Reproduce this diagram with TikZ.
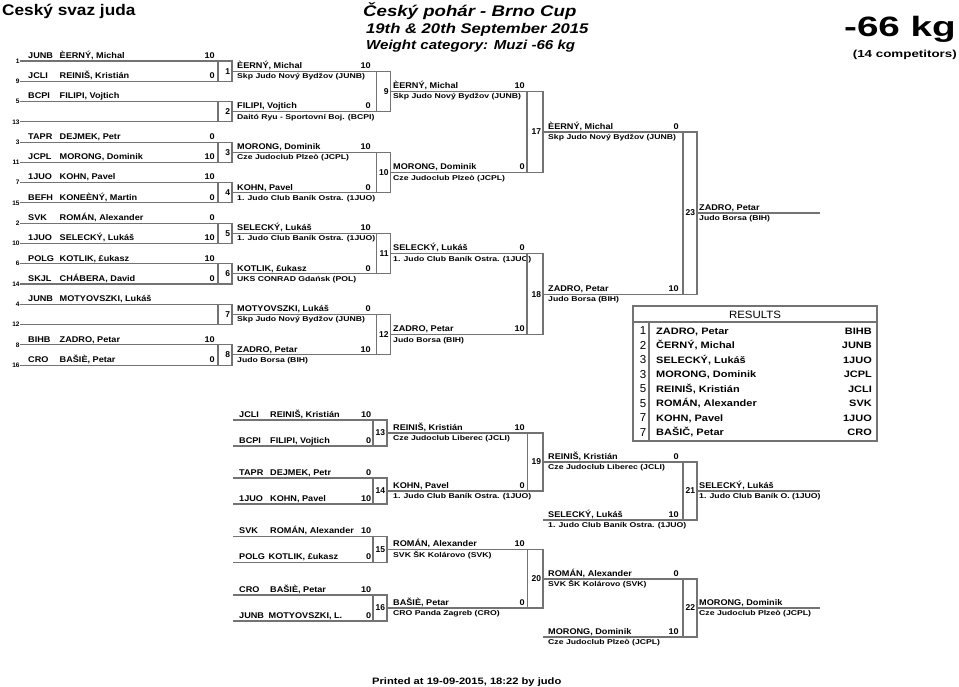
\documentclass[tikz,border=0pt]{standalone}
\usepackage{fontspec}
\usepackage{graphicx}
\setmainfont{Liberation Sans}
\newcommand\Nm[1]{\scalebox{1.1}[1]{#1}}
\newcommand\Cl[1]{\scalebox{1.24}[1]{#1}}
\newcommand\Rs[1]{\scalebox{1.18}[1]{#1}}
\tikzset{
  ln/.style={draw=black!55, line width=1.1pt},
  nm/.style={inner sep=0pt, font=\bfseries\fontsize{8.3}{9}\selectfont},
  cl/.style={inner sep=0pt, font=\bfseries\fontsize{7}{8}\selectfont, anchor=base west},
  bn/.style={inner sep=0pt, font=\bfseries\fontsize{8.5}{9}\selectfont, anchor=east},
  sd/.style={inner sep=0pt, font=\bfseries\fontsize{6.5}{7}\selectfont, anchor=east},
  rs/.style={inner sep=0pt, font=\bfseries\fontsize{9.3}{10}\selectfont},
}
% first-round row: k seed code name score
\newcommand\crow[5]{%
  \pgfmathsetmacro\yy{61+20.27*#1}%
  \draw[ln] (20,\yy) -- (218,\yy);
  \node[sd] (seed#2) at (19.8,\yy) {#2};
  \node[nm,anchor=base west] (cd#2) at (28,\yy-2.7) {\Nm{#3}};
  \node[nm,anchor=base west] (nm#2) at (59.5,\yy-2.7) {\Nm{#4}};
  \node[nm,anchor=base east] (sc#2) at (215,\yy-2.7) {\Nm{#5}};
}
% match box: x1 x2 ya yb number
\newcommand\matchbox[5]{%
  \pgfmathsetmacro\ym{(#3+#4)/2}%
  \draw[ln] (#1,#3) rectangle (#2,#4);
  \node[bn] (m#5) at (#2-1.8,\ym) {#5};
}
% entry: id x1 x2 y textx scorex name score club
\newcommand\ent[9]{%
  \draw[ln] (#2,#4) -- (#3,#4);
  \node[nm,anchor=base west] (n#1) at (#5,#4-2.8) {\Nm{#7}};
  \node[nm,anchor=base east] (s#1) at (#6,#4-2.8) {\Nm{#8}};
  \node[cl] (c#1) at (#5,#4+7.5) {\Cl{#9}};
}
% repechage row: id y code name score namex
\newcommand\rrow[6]{%
  \draw[ln] (233,#2) -- (373,#2);
  \node[nm,anchor=base west] (rc#1) at (239,#2-2.7) {\Nm{#3}};
  \node[nm,anchor=base west] (rn#1) at (#6,#2-2.7) {\Nm{#4}};
  \node[nm,anchor=base east] (rs#1) at (371.5,#2-2.7) {\Nm{#5}};
}
\begin{document}
\begin{tikzpicture}[x=1pt,y=-1pt]
\fill[white] (0,0) rectangle (959,686);
\useasboundingbox (0,0) rectangle (959,686);

% headings
\node[anchor=base west, inner sep=0pt, font=\bfseries\fontsize{15.4}{17}\selectfont] (org) at (2,15) {\scalebox{1.12}[1]{Ceský svaz juda}};
\node[anchor=base west, inner sep=0pt, font=\bfseries\itshape\fontsize{15.4}{17}\selectfont] (t1) at (363,16) {\scalebox{1.21}[1]{Český pohár - Brno Cup}};
\node[anchor=base west, inner sep=0pt, font=\bfseries\itshape\fontsize{14}{15}\selectfont] (t2) at (366,33) {\scalebox{1.19}[1]{19th \& 20th September 2015}};
\node[anchor=base west, inner sep=0pt, font=\bfseries\itshape\fontsize{13}{14}\selectfont] (t3) at (366,49) {\scalebox{1.16}[1]{Weight category: Muzi -66 kg}};
\node[anchor=base east, inner sep=0pt, font=\bfseries\fontsize{28}{30}\selectfont] (wc) at (956,36) {\scalebox{1.38}[1]{-66 kg}};
\node[anchor=base east, inner sep=0pt, font=\bfseries\fontsize{10.2}{12}\selectfont] (nc) at (957,57) {\scalebox{1.31}[1]{(14 competitors)}};
\node[anchor=base west, inner sep=0pt, font=\bfseries\fontsize{9.3}{10}\selectfont] (pr) at (372,684) {\scalebox{1.2}[1]{Printed at 19-09-2015, 18:22 by judo}};

% first round
\crow{0}{1}{JUNB}{ÈERNÝ, Michal}{10}
\crow{1}{9}{JCLI}{REINIŠ, Kristián}{0}
\crow{2}{5}{BCPI}{FILIPI, Vojtich}{}
\crow{3}{13}{}{}{}
\crow{4}{3}{TAPR}{DEJMEK, Petr}{0}
\crow{5}{11}{JCPL}{MORONG, Dominik}{10}
\crow{6}{7}{1JUO}{KOHN, Pavel}{10}
\crow{7}{15}{BEFH}{KONEÈNÝ, Martin}{0}
\crow{8}{2}{SVK}{ROMÁN, Alexander}{0}
\crow{9}{10}{1JUO}{SELECKÝ, Lukáš}{10}
\crow{10}{6}{POLG}{KOTLIK, £ukasz}{10}
\crow{11}{14}{SKJL}{CHÁBERA, David}{0}
\crow{12}{4}{JUNB}{MOTYOVSZKI, Lukáš}{}
\crow{13}{12}{}{}{}
\crow{14}{8}{BIHB}{ZADRO, Petar}{10}
\crow{15}{16}{CRO}{BAŠIÈ, Petar}{0}
\foreach \m in {0,...,7} {
  \pgfmathsetmacro\ya{61+40.54*\m}
  \pgfmathsetmacro\yb{\ya+20.27}
  \pgfmathtruncatemacro\nn{\m+1}
  \matchbox{218}{232}{\ya}{\yb}{\nn}
}

% second column
\ent{a1}{232}{376.5}{71.1}{237}{371}{ÈERNÝ, Michal}{10}{Skp Judo Nový Bydžov (JUNB)}
\ent{a2}{232}{376.5}{111.7}{237}{371}{FILIPI, Vojtich}{0}{Daitó Ryu - Sportovní Boj. (BCPI)}
\ent{a3}{232}{376.5}{152.2}{237}{371}{MORONG, Dominik}{10}{Cze Judoclub Plzeò (JCPL)}
\ent{a4}{232}{376.5}{192.8}{237}{371}{KOHN, Pavel}{0}{1. Judo Club Baník Ostra. (1JUO)}
\ent{a5}{232}{376.5}{233.3}{237}{371}{SELECKÝ, Lukáš}{10}{1. Judo Club Baník Ostra. (1JUO)}
\ent{a6}{232}{376.5}{273.8}{237}{371}{KOTLIK, £ukasz}{0}{UKS CONRAD Gdańsk (POL)}
\ent{a7}{232}{376.5}{314.4}{237}{371}{MOTYOVSZKI, Lukáš}{0}{Skp Judo Nový Bydžov (JUNB)}
\ent{a8}{232}{376.5}{354.9}{237}{371}{ZADRO, Petar}{10}{Judo Borsa (BIH)}
\matchbox{376.5}{390.5}{71.1}{111.7}{9}
\matchbox{376.5}{390.5}{152.2}{192.8}{10}
\matchbox{376.5}{390.5}{233.3}{273.8}{11}
\matchbox{376.5}{390.5}{314.4}{354.9}{12}

% repechage second column
\rrow{1}{420}{JCLI}{REINIŠ, Kristián}{10}{270}
\rrow{2}{446}{BCPI}{FILIPI, Vojtich}{0}{270}
\rrow{3}{478}{TAPR}{DEJMEK, Petr}{0}{270}
\rrow{4}{504}{1JUO}{KOHN, Pavel}{10}{270}
\rrow{5}{536.5}{SVK}{ROMÁN, Alexander}{10}{270}
\rrow{6}{562.5}{POLG}{KOTLIK, £ukasz}{0}{268.5}
\rrow{7}{595}{CRO}{BAŠIÈ, Petar}{10}{270}
\rrow{8}{621}{JUNB}{MOTYOVSZKI, L.}{0}{268.5}
\matchbox{373}{387}{420}{446}{13}
\matchbox{373}{387}{478}{504}{14}
\matchbox{373}{387}{536.5}{562.5}{15}
\matchbox{373}{387}{595}{621}{16}

% third column
\ent{b1}{390.5}{527}{91.4}{393}{525}{ÈERNÝ, Michal}{10}{Skp Judo Nový Bydžov (JUNB)}
\ent{b2}{390.5}{527}{172.5}{393}{525}{MORONG, Dominik}{0}{Cze Judoclub Plzeò (JCPL)}
\ent{b3}{390.5}{527}{253.6}{393}{525}{SELECKÝ, Lukáš}{0}{1. Judo Club Baník Ostra. (1JUO)}
\ent{b4}{390.5}{527}{334.6}{393}{525}{ZADRO, Petar}{10}{Judo Borsa (BIH)}
\ent{b5}{387}{527.5}{433}{393}{525}{REINIŠ, Kristián}{10}{Cze Judoclub Liberec (JCLI)}
\ent{b6}{387}{527.5}{491}{393}{525}{KOHN, Pavel}{0}{1. Judo Club Baník Ostra. (1JUO)}
\ent{b7}{387}{527.5}{549.5}{393}{525}{ROMÁN, Alexander}{10}{SVK ŠK Kolárovo (SVK)}
\ent{b8}{387}{527.5}{608}{393}{525}{BAŠIÈ, Petar}{0}{CRO Panda Zagreb (CRO)}
\matchbox{527}{543}{91.4}{172.5}{17}
\matchbox{527}{543}{253.6}{334.6}{18}
\matchbox{527.5}{543}{433}{491}{19}
\matchbox{527.5}{543}{549.5}{608}{20}

% fourth column
\ent{d1}{543}{683}{132}{548}{679}{ÈERNÝ, Michal}{0}{Skp Judo Nový Bydžov (JUNB)}
\ent{d2}{543}{683}{294.1}{548}{679}{ZADRO, Petar}{10}{Judo Borsa (BIH)}
\ent{d3}{543}{683}{462}{548}{679}{REINIŠ, Kristián}{0}{Cze Judoclub Liberec (JCLI)}
\ent{d4}{543}{683}{520}{548}{679}{SELECKÝ, Lukáš}{10}{1. Judo Club Baník Ostra. (1JUO)}
\ent{d5}{543}{683}{579}{548}{679}{ROMÁN, Alexander}{0}{SVK ŠK Kolárovo (SVK)}
\ent{d6}{543}{683}{637}{548}{679}{MORONG, Dominik}{10}{Cze Judoclub Plzeò (JCPL)}
\matchbox{683}{697}{132}{294.1}{23}
\matchbox{683}{697}{462}{520}{21}
\matchbox{683}{697}{579}{637}{22}

% fifth column
\ent{e1}{697}{820}{213}{699}{818}{ZADRO, Petar}{}{Judo Borsa (BIH)}
\ent{e2}{697}{820}{491}{699}{818}{SELECKÝ, Lukáš}{}{1. Judo Club Baník O. (1JUO)}
\ent{e3}{697}{820}{608}{699}{818}{MORONG, Dominik}{}{Cze Judoclub Plzeò (JCPL)}

% results table
\draw[ln] (633,306) rectangle (877,441);
\draw[ln] (633,322) -- (877,322);
\draw[ln] (649,322) -- (649,441);
\node[anchor=base, inner sep=0pt, font=\fontsize{10.6}{12}\selectfont] (res) at (755,318.3) {\scalebox{1.08}[1]{RESULTS}};
\foreach \r/\n/\c [count=\i from 0] in {1/{ZADRO, Petar}/BIHB, 2/{ČERNÝ, Michal}/JUNB, 3/{SELECKÝ, Lukáš}/1JUO, 3/{MORONG, Dominik}/JCPL, 5/{REINIŠ, Kristián}/JCLI, 5/{ROMÁN, Alexander}/SVK, 7/{KOHN, Pavel}/1JUO, 7/{BAŠIČ, Petar}/CRO} {
  \pgfmathsetmacro\yr{334.3+14.5*\i}
  \node[anchor=base, inner sep=0pt, font=\fontsize{11.5}{12}\selectfont] (rk\i) at (643,\yr+0.6) {\r};
  \node[rs, anchor=base west] (rn\i) at (656,\yr) {\Rs{\n}};
  \node[rs, anchor=base east] (rc\i) at (872,\yr) {\Rs{\c}};
}
\end{tikzpicture}
\end{document}
